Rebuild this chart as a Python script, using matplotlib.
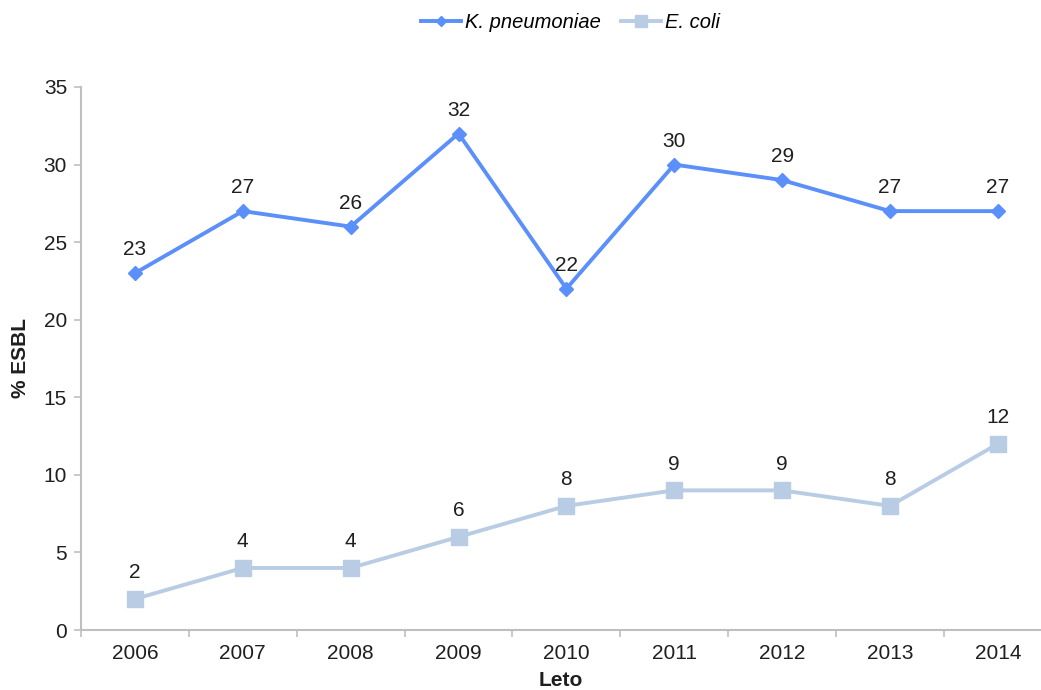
import matplotlib

matplotlib.use("Agg")
import matplotlib.pyplot as plt
from matplotlib.ticker import FixedLocator

# ----------------- DATA -----------------
YEARS = ["2006", "2007", "2008", "2009", "2010", "2011", "2012", "2013", "2014"]
K_PNEUMONIAE = [23, 27, 26, 32, 22, 30, 29, 27, 27]
E_COLI = [2, 4, 4, 6, 8, 9, 9, 8, 12]
# -----------------------------------------

plt.rcParams["font.family"] = ["Liberation Sans", "DejaVu Sans"]

C_K = "#5b8ff9"
C_E = "#b8cce4"
C_AX = "#bfbfbf"
C_TXT = "#1f1f1f"

fig = plt.figure(figsize=(10.41, 6.9), dpi=100)
ax = fig.add_axes([81 / 1041, 60 / 690, 960 / 1041, 543 / 690])

x = list(range(len(YEARS)))
ax.plot(x, K_PNEUMONIAE, color=C_K, linewidth=2.8, marker="D", markersize=7,
        label="K. pneumoniae", zorder=3)
ax.plot(x, E_COLI, color=C_E, linewidth=2.8, marker="s", markersize=11,
        label="E. coli", zorder=3)

for xi, v in zip(x, K_PNEUMONIAE):
    ax.annotate(str(v), (xi, v), xytext=(0, 10), textcoords="offset points",
                ha="center", va="bottom", fontsize=15, color=C_TXT)
for xi, v in zip(x, E_COLI):
    ax.annotate(str(v), (xi, v), xytext=(0, 12), textcoords="offset points",
                ha="center", va="bottom", fontsize=15, color=C_TXT)

ax.set_xlim(-0.5, 8.4)
ax.set_ylim(0, 35)
ax.set_yticks(range(0, 36, 5))
ax.set_xticks(x)
ax.set_xticklabels(YEARS)
ax.xaxis.set_minor_locator(FixedLocator([i + 0.5 for i in range(-1, 9)]))
ax.tick_params(axis="x", which="major", length=0, pad=10, labelsize=15, labelcolor=C_TXT)
ax.tick_params(axis="x", which="minor", length=5, color=C_AX, width=1.2, direction="out")
ax.tick_params(axis="y", length=5, color=C_AX, width=1.2, pad=5, labelsize=15,
               labelcolor=C_TXT)

for s in ["top", "right"]:
    ax.spines[s].set_visible(False)
for s in ["left", "bottom"]:
    ax.spines[s].set_color(C_AX)
    ax.spines[s].set_linewidth(1.5)

ax.set_ylabel("% ESBL", fontsize=15, fontweight="bold", labelpad=10, color=C_TXT)
ax.set_xlabel("Leto", fontsize=15, fontweight="bold", labelpad=6, color=C_TXT)

leg = fig.legend(loc="upper center", bbox_to_anchor=(0.548, 1.008), ncol=2, frameon=False,
                 prop={"size": 14.5, "style": "italic"}, handlelength=2.0, columnspacing=1.0,
                 handletextpad=0.2, markerscale=0.75)

fig.savefig("out.png", dpi=100)
